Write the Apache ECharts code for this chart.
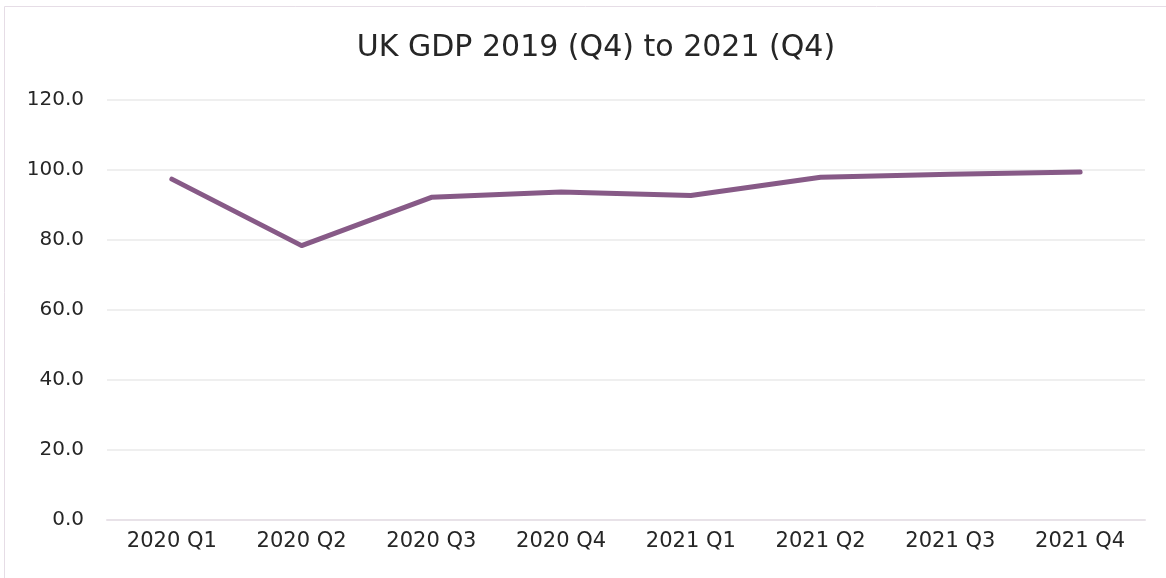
<!DOCTYPE html>
<html>
<head>
<meta charset="utf-8">
<script src="https://cdn.jsdelivr.net/npm/echarts@6/dist/echarts.min.js"></script>
<style>
  html, body { margin: 0; padding: 0; background: #fff; }
  #main { width: 1166px; height: 578px; }
</style>
</head>
<body>
<div id="main"></div>
<script>
var quarters = ["2020 Q1", "2020 Q2", "2020 Q3", "2020 Q4", "2021 Q1", "2021 Q2", "2021 Q3", "2021 Q4"];
var gdpIndex = [97.4, 78.4, 92.2, 93.7, 92.7, 97.9, 98.8, 99.4];

var chart = echarts.init(document.getElementById("main"));
chart.setOption({
  animation: false,
  graphic: [{
    type: "rect",
    shape: { x: 4.5, y: 6.5, width: 1180, height: 600 },
    style: { fill: "none", stroke: "#e6dde6", lineWidth: 1 },
    silent: true
  }],
  title: {
    text: "UK GDP 2019 (Q4) to 2021 (Q4)",
    left: 591,
    top: 28,
    textAlign: "center",
    textStyle: { fontFamily: "DejaVu Sans", fontWeight: "normal", fontSize: 30, color: "#262626" }
  },
  grid: { left: 107, right: 21, top: 100, bottom: 58 },
  xAxis: {
    type: "category",
    data: quarters,
    axisLine: { lineStyle: { color: "#e8e2e8", width: 2 } },
    axisTick: { show: false },
    axisLabel: { fontFamily: "DejaVu Sans", fontSize: 21, color: "#262626", margin: 11 }
  },
  yAxis: {
    type: "value",
    min: 0,
    max: 120,
    interval: 20,
    axisLine: { show: false },
    axisTick: { show: false },
    splitLine: { lineStyle: { color: "#efefef", width: 2 } },
    axisLabel: {
      fontFamily: "DejaVu Sans", fontSize: 20, color: "#262626", margin: 23,
      formatter: function (v) { return v.toFixed(1); }
    }
  },
  series: [{
    type: "line",
    data: gdpIndex,
    symbol: "none",
    lineStyle: { color: "#875a87", width: 5, cap: "round", join: "round" }
  }]
});
</script>
</body>
</html>
